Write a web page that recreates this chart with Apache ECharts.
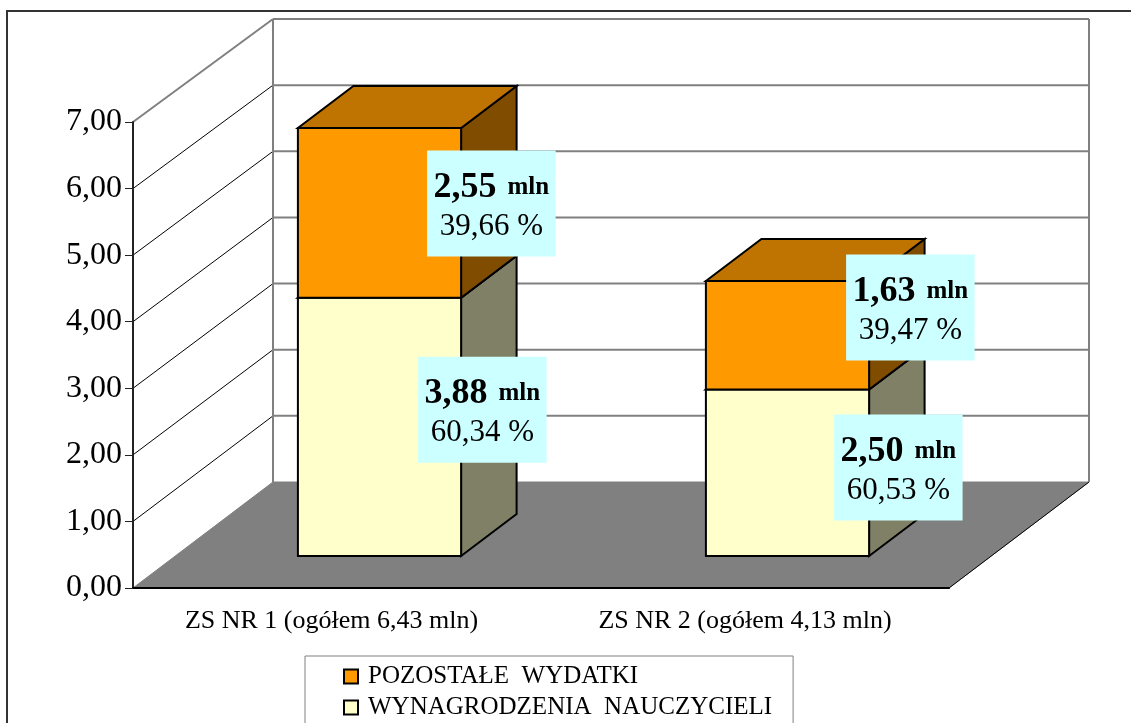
<!DOCTYPE html>
<html>
<head>
<meta charset="utf-8">
<title>Wydatki ZS</title>
<script src="https://cdn.jsdelivr.net/npm/echarts@6/dist/echarts.min.js"></script>
<style>
html, body { margin: 0; padding: 0; background: #fff; }
#chart { width: 1131px; height: 723px; }
</style>
</head>
<body>
<div id="chart"></div>
<script>
const categories = ['ZS NR 1 (ogółem 6,43 mln)', 'ZS NR 2 (ogółem 4,13 mln)']
const seriesNames = ['POZOSTAŁE  WYDATKI', 'WYNAGRODZENIA  NAUCZYCIELI']
const wynagrodzenia = [3.88, 2.50]
const pozostale = [2.55, 1.63]
const wynagrodzeniaPct = [60.34, 60.53]
const pozostalePct = [39.66, 39.47]
const yTicks = [0, 1, 2, 3, 4, 5, 6, 7]

const SERIF = '"Liberation Serif", "Times New Roman", serif'
// przesuniecia 3D w pikselach
const WALL = { dx: 140, dy: -106, scale: 0.9935 }
const BAR_POS = { dx: 42.5, dy: -32 }
const BAR_DEPTH = { dx: 55.5, dy: -42 }
const BOX = { w: 128.5, h: 106 }

const fmt = (v) => v.toFixed(2).replace('.', ',')
const poly = (points, fill, stroke, lineWidth) => ({
  type: 'polygon',
  shape: { points },
  style: { fill, stroke, lineWidth }
})
const line = (a, b, stroke, lineWidth) => ({
  type: 'line',
  shape: { x1: a[0], y1: a[1], x2: b[0], y2: b[1] },
  style: { stroke, lineWidth }
})

function renderWalls (params, api) {
  const cs = params.coordSys
  const left = cs.x
  const right = cs.x + cs.width
  const y0 = api.coord([0, 0])[1]
  const backY = (y) => y0 + WALL.dy - (y0 - y) * WALL.scale
  const y7 = api.coord([0, 7])[1]
  const children = []
  children.push(poly([[left, y0], [left + WALL.dx, backY(y0)], [right + WALL.dx, backY(y0)], [right, y0]], '#808080', '#808080', 1))
  children.push(line([right, y0], [right + WALL.dx, backY(y0)], '#000', 1))
  yTicks.forEach((t) => {
    if (t === 0) return
    const y = api.coord([0, t])[1]
    children.push(line([left, y], [left + WALL.dx, backY(y)], t === 7 ? '#808080' : '#000', t === 7 ? 2 : 1))
    children.push(line([left + WALL.dx, backY(y)], [right + WALL.dx, backY(y)], '#808080', 2))
  })
  children.push(line([left + WALL.dx, backY(y0)], [left + WALL.dx, backY(y7)], '#808080', 2))
  children.push(line([right + WALL.dx, backY(y0)], [right + WALL.dx, backY(y7)], '#808080', 2))
  return { type: 'group', children }
}

function makeBarRender (front, top, side) {
  return function (params, api) {
    const cat = api.value(0)
    const val = api.value(1)
    const base = api.value(2)
    const w = api.size([1, 0])[0] * 0.4
    const pLow = api.coord([cat, base])
    const pHigh = api.coord([cat, base + val])
    const x1 = pLow[0] - w / 2 + BAR_POS.dx
    const x2 = pLow[0] + w / 2 + BAR_POS.dx
    const yb = pLow[1] + BAR_POS.dy
    const yt = pHigh[1] + BAR_POS.dy
    const dx = BAR_DEPTH.dx
    const dy = BAR_DEPTH.dy
    return {
      type: 'group',
      children: [
        poly([[x2, yb], [x2 + dx, yb + dy], [x2 + dx, yt + dy], [x2, yt]], side, '#000', 2),
        poly([[x1, yt], [x1 + dx, yt + dy], [x2 + dx, yt + dy], [x2, yt]], top, '#000', 2),
        poly([[x1, yb], [x2, yb], [x2, yt], [x1, yt]], front, '#000', 2)
      ]
    }
  }
}

// polozenie ramek z opisem wzgledem gornego prawego rogu slupka
const boxOffsets = [[-43, 59], [-35, 25], [-34, 22.5], [-23, -26.5]]
const labelData = []
categories.forEach((c, i) => {
  labelData.push([i, wynagrodzenia[i], 0, wynagrodzeniaPct[i], i])
})
categories.forEach((c, i) => {
  labelData.push([i, pozostale[i], wynagrodzenia[i], pozostalePct[i], i + 2])
})

function renderLabel (params, api) {
  const cat = api.value(0)
  const val = api.value(1)
  const base = api.value(2)
  const pct = api.value(3)
  const off = boxOffsets[api.value(4)]
  const w = api.size([1, 0])[0] * 0.4
  const p = api.coord([cat, base + val])
  const bx = p[0] + w / 2 + BAR_POS.dx + off[0]
  const by = p[1] + BAR_POS.dy + off[1]
  return {
    type: 'group',
    children: [
      { type: 'rect', shape: { x: bx, y: by, width: BOX.w, height: BOX.h }, style: { fill: '#CCFFFF' } },
      {
        type: 'text',
        x: bx + BOX.w / 2,
        y: by + 37,
        style: {
          text: '{a|' + fmt(val) + '}{s| }{b|mln}',
          align: 'center',
          verticalAlign: 'middle',
          rich: {
            a: { font: 'bold 36px ' + SERIF, fill: '#000' },
            s: { font: 'bold 44px ' + SERIF, fill: '#000' },
            b: { font: 'bold 25px ' + SERIF, fill: '#000' }
          }
        }
      },
      {
        type: 'text',
        x: bx + BOX.w / 2,
        y: by + 76,
        style: {
          text: fmt(pct) + ' %',
          align: 'center',
          verticalAlign: 'middle',
          font: '31px ' + SERIF,
          fill: '#000'
        }
      }
    ]
  }
}

const chart = echarts.init(document.getElementById('chart'))
chart.setOption({
  animation: false,
  backgroundColor: '#fff',
  textStyle: { fontFamily: SERIF },
  grid: { left: 133, top: 122, width: 816, height: 466 },
  graphic: [
    {
      type: 'polyline',
      z: 10,
      shape: { points: [[7, 723], [7, 11], [1131, 11]] },
      style: { stroke: '#333', lineWidth: 2, fill: 'none' }
    }
  ],
  legend: {
    data: seriesNames,
    orient: 'vertical',
    icon: 'rect',
    left: 305,
    top: 656,
    height: 120,
    padding: [8, 21, 40, 38],
    itemWidth: 14,
    itemHeight: 14,
    itemGap: 6,
    borderColor: '#808080',
    borderWidth: 1,
    backgroundColor: '#fff',
    selectedMode: false,
    textStyle: { fontFamily: SERIF, fontSize: 25, color: '#000', padding: [0, 0, 0, 5] }
  },
  xAxis: {
    type: 'category',
    data: categories,
    z: 3,
    axisLine: { lineStyle: { color: '#000', width: 2 } },
    axisTick: { length: 9, lineStyle: { color: '#000' } },
    axisLabel: {
      color: '#000',
      margin: 20,
      formatter: (v, i) => (i === 0 ? '{a|' + v + '}' : '{b|' + v + '}'),
      rich: {
        a: { fontFamily: SERIF, fontSize: 26, color: '#000', padding: [0, 11, 0, 0] },
        b: { fontFamily: SERIF, fontSize: 26, color: '#000' }
      }
    }
  },
  yAxis: {
    type: 'value',
    min: 0,
    max: 7,
    interval: 1,
    z: 3,
    splitLine: { show: false },
    axisLine: { show: true, lineStyle: { color: '#222', width: 2 } },
    axisTick: { show: true, length: 8, lineStyle: { color: '#222' } },
    axisLabel: { fontFamily: SERIF, fontSize: 32, color: '#000', margin: 11, padding: [4, 0, 0, 0], formatter: (v) => fmt(v) }
  },
  series: [
    {
      type: 'custom',
      z: 1,
      silent: true,
      renderItem: renderWalls,
      data: [[0, 0]]
    },
    {
      name: seriesNames[1],
      type: 'custom',
      z: 2,
      itemStyle: { color: '#FFFFCC', borderColor: '#000', borderWidth: 2 },
      renderItem: makeBarRender('#FFFFCC', '#BFBF99', '#808066'),
      encode: { x: 0, y: 1 },
      data: wynagrodzenia.map((v, i) => [i, v, 0])
    },
    {
      name: seriesNames[0],
      type: 'custom',
      z: 2,
      itemStyle: { color: '#FF9900', borderColor: '#000', borderWidth: 2 },
      renderItem: makeBarRender('#FF9900', '#BF7300', '#804D00'),
      encode: { x: 0, y: 1 },
      data: pozostale.map((v, i) => [i, v, wynagrodzenia[i]])
    },
    {
      type: 'custom',
      z: 6,
      silent: true,
      renderItem: renderLabel,
      encode: { x: 0, y: 1 },
      data: labelData
    }
  ]
})
window.addEventListener('resize', () => {
  chart.resize()
})
</script>
</body>
</html>
